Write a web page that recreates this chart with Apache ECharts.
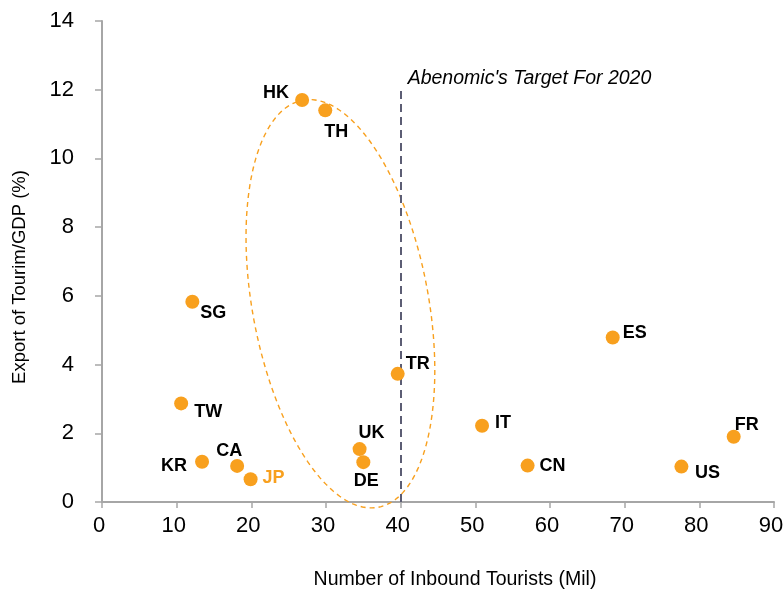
<!DOCTYPE html>
<html>
<head>
<meta charset="utf-8">
<script src="https://cdn.jsdelivr.net/npm/echarts@6/dist/echarts.min.js"></script>
<style>
  html, body { margin: 0; padding: 0; background: #ffffff; }
  #chart { width: 784px; height: 591px; }
</style>
</head>
<body>
<div id="chart"></div>
<script>
// Inbound tourists (millions) vs. tourism exports as a share of GDP
const countries = ['HK', 'TH', 'SG', 'TW', 'KR', 'CA', 'JP', 'UK', 'DE', 'TR', 'ES', 'IT', 'CN', 'US', 'FR'];
const inboundTourists = [26.8, 29.9, 12.1, 10.6, 13.4, 18.1, 19.9, 34.5, 35.0, 39.6, 68.4, 50.9, 57.0, 77.6, 84.6];
const tourismExportGdp = [11.70, 11.40, 5.83, 2.87, 1.17, 1.05, 0.66, 1.54, 1.16, 3.73, 4.79, 2.22, 1.06, 1.03, 1.90];

const xTicks = [0, 10, 20, 30, 40, 50, 60, 70, 80, 90];
const yTicks = [0, 2, 4, 6, 8, 10, 12, 14];

const xTitle = 'Number of Inbound Tourists (Mil)';
const yTitle = 'Export of Tourim/GDP (%)';

// 2020 target reference line
const targetTourists = 40;
const targetLineTop = 12;
const targetText = "Abenomic's Target For 2020";

// Group highlighted by the dashed ellipse (centre in data units)
const clusterCentre = [31.93, 5.77];

// Label placement around each marker (pixels, relative to marker centre)
const labelOffsets = {
  HK: [-26, -7], TH: [11, 22], SG: [21, 11], TW: [27, 9], KR: [-28, 4],
  CA: [-8, -15], JP: [23, -1], UK: [12, -16], DE: [3, 19], TR: [20, -10],
  ES: [22, -4], IT: [21, -3], CN: [25, 0], US: [26, 6], FR: [13, -12]
};

const ORANGE = '#F8A01E';
const AXIS_GREY = '#a6a6a6';
const FONT = '"Liberation Sans", Arial, sans-serif';

const points = countries.map((c, i) => ({
  name: c,
  value: [inboundTourists[i], tourismExportGdp[i]],
  label: {
    offset: labelOffsets[c],
    color: c === 'JP' ? ORANGE : '#000000'
  }
}));

const chart = echarts.init(document.getElementById('chart'), null, { renderer: 'canvas' });

chart.setOption({
  backgroundColor: '#ffffff',
  animation: false,
  grid: { left: 102, right: 10, top: 21, bottom: 89, containLabel: false, outerBoundsMode: 'none' },
  xAxis: {
    type: 'value',
    min: xTicks[0],
    max: xTicks[xTicks.length - 1],
    interval: 10,
    splitLine: { show: false },
    axisLine: { show: true, onZero: false, lineStyle: { color: AXIS_GREY, width: 2 } },
    axisTick: { show: true, length: 6, lineStyle: { color: AXIS_GREY, width: 1.5 } },
    axisLabel: {
      margin: 13, color: '#000000', fontSize: 22, fontFamily: FONT,
      padding: [0, 6, 0, 0]
    }
  },
  yAxis: {
    type: 'value',
    min: yTicks[0],
    max: yTicks[yTicks.length - 1],
    interval: 2,
    splitLine: { show: false },
    axisLine: { show: true, onZero: false, lineStyle: { color: AXIS_GREY, width: 2 } },
    axisTick: { show: true, length: 7, lineStyle: { color: AXIS_GREY, width: 1.5 } },
    axisLabel: { margin: 28, color: '#000000', fontSize: 22, fontFamily: FONT }
  },
  graphic: [
    {
      type: 'text',
      x: 455,
      y: 580,
      style: {
        text: xTitle, fill: '#000000', font: '19.5px ' + FONT,
        align: 'center', verticalAlign: 'middle'
      }
    },
    {
      type: 'text',
      x: 20,
      y: 277,
      rotation: Math.PI / 2,
      style: {
        text: yTitle, fill: '#000000', font: '18.5px ' + FONT,
        align: 'center', verticalAlign: 'middle'
      }
    }
  ],
  series: [
    {
      // dashed ellipse around the mid-range group
      type: 'custom',
      z: 1,
      silent: true,
      clip: false,
      data: [clusterCentre],
      renderItem: function (params, api) {
        const c = api.coord([api.value(0), api.value(1)]);
        const a = 207, b = 88, th = 10.5 * Math.PI / 180;
        const pts = [];
        for (let k = 0; k <= 180; k++) {
          const t = (k / 180) * Math.PI * 2;
          const ca = a * Math.cos(t), sb = b * Math.sin(t);
          pts.push([
            c[0] - ca * Math.sin(th) + sb * Math.cos(th),
            c[1] - ca * Math.cos(th) - sb * Math.sin(th)
          ]);
        }
        return {
          type: 'polyline',
          shape: { points: pts },
          style: { fill: null, stroke: ORANGE, lineWidth: 1.4, lineDash: [5, 4] }
        };
      }
    },
    {
      // target annotation text
      type: 'custom',
      z: 3,
      silent: true,
      clip: false,
      data: [[targetTourists, targetLineTop]],
      renderItem: function (params, api) {
        const p = api.coord([api.value(0), api.value(1)]);
        return {
          type: 'text',
          x: p[0] + 7,
          y: p[1] - 11,
          style: {
            text: targetText,
            fill: '#000000',
            font: 'italic 19.5px ' + FONT,
            align: 'left',
            verticalAlign: 'middle'
          }
        };
      }
    },
    {
      type: 'scatter',
      z: 5,
      symbol: 'circle',
      symbolSize: 14,
      itemStyle: { color: ORANGE, opacity: 1 },
      label: {
        show: true,
        position: 'inside',
        formatter: '{b}',
        fontSize: 18,
        fontWeight: 'bold',
        fontFamily: FONT,
        align: 'center',
        verticalAlign: 'middle'
      },
      emphasis: { disabled: true },
      data: points,
      markLine: {
        silent: true,
        symbol: ['none', 'none'],
        animation: false,
        z: 2,
        lineStyle: { color: '#5c5d74', width: 2, type: [8, 5] },
        label: { show: false },
        data: [[{ coord: [targetTourists, 0] }, { coord: [targetTourists, targetLineTop] }]]
      }
    }
  ]
});
</script>
</body>
</html>
